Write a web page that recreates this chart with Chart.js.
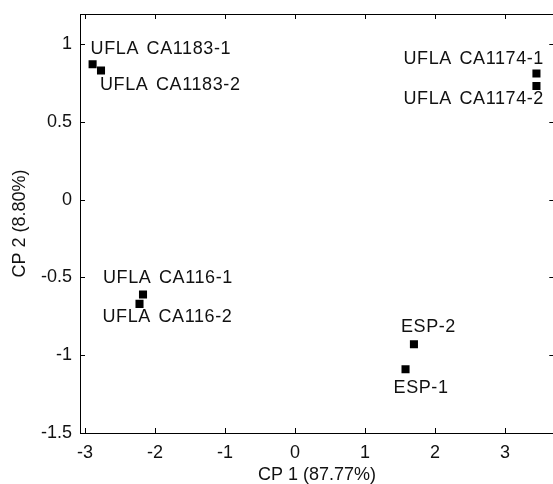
<!DOCTYPE html>
<html>
<head>
<meta charset="utf-8">
<script src="https://cdn.jsdelivr.net/npm/chart.js@4.4.1/dist/chart.umd.min.js"></script>
<style>
  html, body { margin: 0; padding: 0; background: #fff; overflow: hidden; }
  #wrap { width: 560px; height: 484px; }
</style>
</head>
<body>
<div id="wrap"><canvas id="pcaChart" width="560" height="484"></canvas></div>
<script>
const samples = ["UFLA CA1183-1", "UFLA CA1183-2", "UFLA CA1174-1", "UFLA CA1174-2",
                 "UFLA CA116-1", "UFLA CA116-2", "ESP-2", "ESP-1"];
const cp1 = [-2.89, -2.77, 3.45, 3.45, -2.17, -2.22, 1.70, 1.58];
const cp2 = [0.87, 0.83, 0.81, 0.73, -0.61, -0.67, -0.93, -1.09];
const xTicks = [-3, -2, -1, 0, 1, 2, 3];
const yTicks = [-1.5, -1, -0.5, 0, 0.5, 1];

const FONT = "Liberation Sans, Arial, sans-serif";

// label placement next to each point, in pixels
const labelShift = {
    "UFLA CA1183-1": [-2, -15],
    "UFLA CA1183-2": [-1, 15],
    "UFLA CA1174-1": [-133, -15],
    "UFLA CA1174-2": [-133, 13],
    "UFLA CA116-1": [-40, -16],
    "UFLA CA116-2": [-37, 13],
    "ESP-2": [-13, -17],
    "ESP-1": [-12, 19]
};

const frame = {
    id: "frame",
    afterDraw(chart) {
        const { ctx, chartArea: a, scales } = chart;
        ctx.save();
        ctx.strokeStyle = "#000";
        ctx.lineWidth = 1;
        ctx.strokeRect(a.left + 0.5, a.top + 0.5, a.right - a.left, a.bottom - a.top);

        // inward ticks
        ctx.beginPath();
        xTicks.forEach(v => {
            const px = Math.round(scales.x.getPixelForValue(v)) + 0.5;
            ctx.moveTo(px, a.bottom); ctx.lineTo(px, a.bottom - 5);
            ctx.moveTo(px, a.top); ctx.lineTo(px, a.top + 5);
        });
        yTicks.forEach(v => {
            const py = Math.round(scales.y.getPixelForValue(v)) + 0.5;
            ctx.moveTo(a.left, py); ctx.lineTo(a.left + 5, py);
            ctx.moveTo(a.right, py); ctx.lineTo(a.right - 5, py);
        });
        ctx.stroke();

        // point names
        ctx.fillStyle = "#111";
        ctx.font = "18px " + FONT;
        ctx.wordSpacing = "2px";
        ctx.letterSpacing = "0.6px";
        ctx.textAlign = "left";
        ctx.textBaseline = "middle";
        const meta = chart.getDatasetMeta(0);
        meta.data.forEach((pt, i) => {
            const s = labelShift[samples[i]] || [4, -12];
            ctx.fillText(samples[i], pt.x + s[0], pt.y + s[1]);
        });

        // axis titles
        ctx.wordSpacing = "0px";
        ctx.letterSpacing = "0px";
        ctx.textAlign = "center";
        ctx.fillText("CP 1 (87.77%)", 317, 475);
        ctx.translate(20, (a.top + a.bottom) / 2);
        ctx.rotate(-Math.PI / 2);
        ctx.fillText("CP 2 (8.80%)", 0, 0);
        ctx.restore();
    }
};

// fixed axis box: no extra room reserved for edge labels
function fixPadding(s) {
    s.paddingTop = 0; s.paddingBottom = 0;
    s.paddingLeft = 0; s.paddingRight = 0;
}

new Chart(document.getElementById("pcaChart"), {
    type: "scatter",
    data: {
        labels: samples,
        datasets: [{
            data: cp1.map((x, i) => ({ x: x, y: cp2[i] })),
            pointStyle: "rect",
            pointRadius: 5.7,
            pointHoverRadius: 5.7,
            backgroundColor: "#000",
            borderWidth: 0
        }]
    },
    options: {
        responsive: false,
        animation: false,
        layout: { padding: { left: 0, top: 14, right: 1, bottom: 0 } },
        plugins: {
            legend: { display: false },
            tooltip: { enabled: false }
        },
        scales: {
            x: {
                type: "linear",
                min: -3.07,
                max: 3.705,
                afterBuildTicks: s => { s.ticks = xTicks.map(v => ({ value: v })); },
                afterFit: s => { s.height = 51; fixPadding(s); },
                grid: { display: false, drawTicks: false },
                border: { display: false },
                ticks: { color: "#111", padding: 9, font: { family: FONT, size: 18 },
                         callback: v => String(v) }
            },
            y: {
                type: "linear",
                min: -1.5,
                max: 1.193,
                afterBuildTicks: s => { s.ticks = yTicks.map(v => ({ value: v })); },
                afterFit: s => { s.width = 80; fixPadding(s); },
                grid: { display: false, drawTicks: false },
                border: { display: false },
                ticks: { color: "#111", padding: 8, font: { family: FONT, size: 18 },
                         callback: v => String(v) }
            }
        }
    },
    plugins: [frame]
});
</script>
</body>
</html>
